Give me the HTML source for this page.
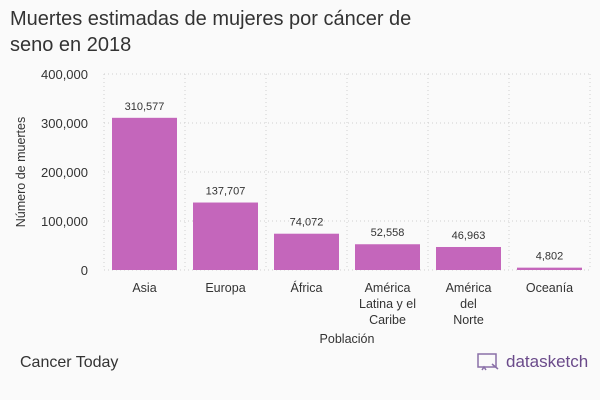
<!DOCTYPE html>
<html><head><meta charset="utf-8"><style>
body{margin:0;background:#fafafa;font-family:"Liberation Sans",sans-serif;}
#wrap{position:relative;width:600px;height:400px;background:#fafafa;overflow:hidden}
.title{position:absolute;left:10px;top:6px;font-size:20px;line-height:26px;color:#333;}
.src{position:absolute;left:20px;top:354px;font-size:16px;color:#333}
.logo{position:absolute;left:476px;top:352px;font-size:17px;color:#6a4a8a;display:flex;align-items:center;gap:6px}
</style></head><body>
<div id="wrap">
<div class="title">Muertes estimadas de mujeres por cáncer de<br>seno en 2018</div>
<svg id="chart" width="600" height="400" style="position:absolute;left:0;top:0"></svg>
<div class="src">Cancer Today</div>
<div class="logo"><svg width="24" height="20"><rect x="2" y="2" width="18" height="13" fill="none" stroke="#8a70a8" stroke-width="1.5"/><path d="M6 18 L8 15 L10 18 M16 12 L22 17" stroke="#8a70a8" stroke-width="1.5" fill="none"/></svg><span>datasketch</span></div>
</div>
<script>
const categories=["Asia","Europa","África","América Latina y el Caribe","América del Norte","Oceanía"];
const catLines=[["Asia"],["Europa"],["África"],["América","Latina y el","Caribe"],["América","del","Norte"],["Oceanía"]];
const values=[310577,137707,74072,52558,46963,4802];
const yTicks=[0,100000,200000,300000,400000];
const svg=document.getElementById('chart');const NS="http://www.w3.org/2000/svg";
const x0=104,step=81,pad=8,y0=270,yTop=74,yMax=400000;
const y=v=>y0-(v/yMax)*(y0-yTop);
const xb=i=>x0+i*step;
const fmt=v=>v.toLocaleString('en-US');
function mk(t,a,txt){const e=document.createElementNS(NS,t);for(const k in a)e.setAttribute(k,a[k]);if(txt!=null)e.textContent=txt;svg.appendChild(e);return e;}
yTicks.forEach(t=>{
 const l=mk('line',{x1:x0,x2:590,y1:y(t),y2:y(t),stroke:'#d0d0d0','stroke-dasharray':'1,3'});
 
 
 const tx=mk('text',{x:88,y:y(t)+5,'text-anchor':'end','font-size':13,fill:'#333'},fmt(t));
 
 
});
for(let i=0;i<=categories.length;i++){
 const l=mk('line',{x1:xb(i),x2:xb(i),y1:yTop,y2:y0,stroke:'#d0d0d0','stroke-dasharray':'1,3'});
 
 
}
categories.forEach((c,i)=>{
 const v=values[i];const bx=xb(i)+pad,bw=step-2*pad;
 const r=mk('rect',{x:bx,y:y(v),width:bw,height:Math.max(1,y0-y(v)),fill:'#c466bb'});
 
 
 const lb=mk('text',{x:bx+bw/2,y:y(v)-8,'text-anchor':'middle','font-size':11,fill:'#333'},fmt(v));
 
 
 catLines[i].forEach((ln,j)=>{
  const t=mk('text',{x:bx+bw/2,y:292+j*16,'text-anchor':'middle','font-size':12.5,fill:'#333'},ln);
  
  
 });
});
const xt=mk('text',{x:347,y:343,'text-anchor':'middle','font-size':12.5,fill:'#333'},'Población');


const yt=mk('text',{x:0,y:0,'text-anchor':'middle','font-size':12.5,fill:'#333',transform:'translate(25,172) rotate(-90)'},'Número de muertes');


</script>
</body></html>
